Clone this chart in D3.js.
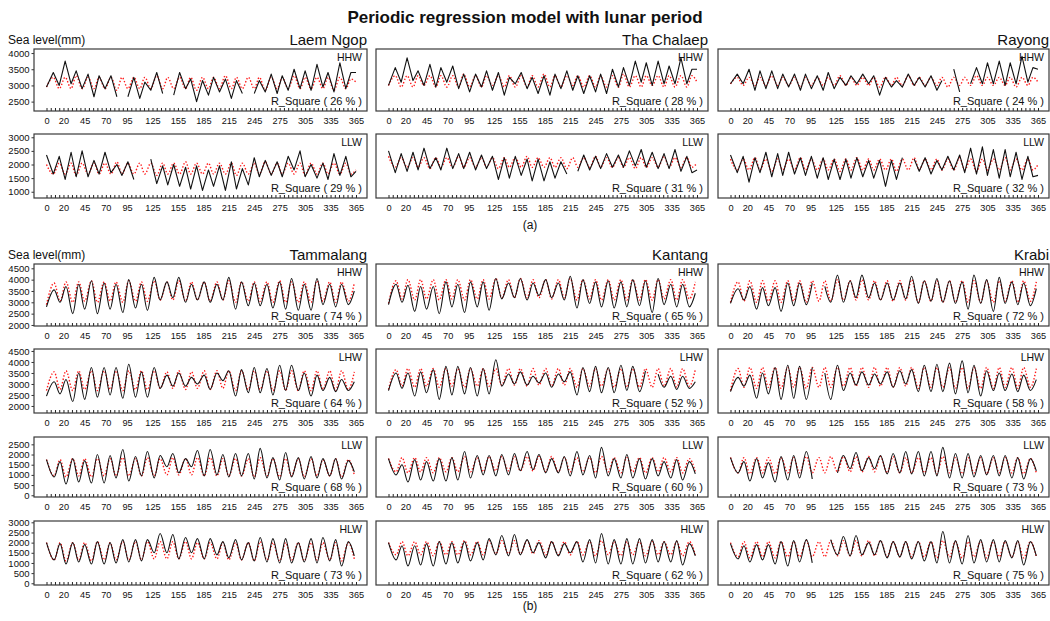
<!DOCTYPE html>
<html>
<head>
<meta charset="utf-8">
<script src="https://cdn.jsdelivr.net/npm/d3@7"></script>
<style>
  body { margin: 0; background: #fff; }
  svg text { font-family: "Liberation Sans", Arial, sans-serif; fill: #111; }
</style>
</head>
<body>
<div id="chart"></div>
<script>
// sample days (turning points of the fortnightly cycle)
const daysA = [0, 8, 15, 22, 29, 35, 42, 49, 56, 62, 69, 76, 83, 89, 96, 103, 110, 116, 123, 130, 137, 143, 150, 157, 164, 170, 177, 184, 191, 197, 204, 211, 218, 224, 231, 238, 245, 251, 258, 265, 272, 278, 285, 292, 299, 305, 312, 319, 326, 332, 339, 346, 353, 359, 365];
const daysB = [0, 9, 16, 23, 31, 38, 45, 53, 60, 68, 75, 82, 90, 97, 105, 112, 119, 127, 134, 142, 149, 156, 164, 171, 178, 186, 193, 201, 208, 215, 223, 230, 238, 245, 252, 260, 267, 275, 282, 289, 297, 304, 312, 319, 326, 334, 341, 348, 356, 363];

const xTickLabels = [0, 20, 45, 70, 95, 125, 155, 185, 215, 245, 275, 305, 335, 365];

const stationsA = ['Laem Ngop', 'Tha Chalaep', 'Rayong'];
const stationsB = ['Tammalang', 'Kantang', 'Krabi'];
const levelsA = ['HHW', 'LLW'];
const levelsB = ['HHW', 'LHW', 'LLW', 'HLW'];
const rSquareA = [[26, 29], [28, 31], [24, 32]];
const rSquareB = [[74, 64, 68, 73], [65, 52, 60, 62], [72, 58, 73, 75]];

// (a) observed / fitted, mm
const laemNgopHHW = [2950, 3400, 3000, 3750, 3050, 3450, 2900, 3350, 2650, 3300, 2900, 3300, 2650, null, 2650, 3250, 2600, 3100, 2850, 3400, 2750, null, 2700, 3400, 2900, 3200, 2500, 3150, 2700, 3250, 2800, 3200, 2600, 3150, 2750, null, 2750, 3150, 2800, 3350, 2750, 3300, 2850, 3500, 2900, 3450, 2850, 3650, 2950, 3400, 2800, 3700, 2900, 3400, 3400];
const laemNgopHHWFit = [2950, 3250, 2900, 3250, 2900, 3300, 2900, 3250, 2900, 3250, 2900, 3250, 2850, 3250, 2900, 3250, 2900, 3250, 2900, 3300, 2900, 3250, 2900, 3250, 2900, 3250, 2850, 3250, 2900, 3250, 2900, 3300, 2900, 3250, 2900, 3250, 2900, 3250, 2850, 3250, 2900, 3250, 2900, 3300, 2900, 3250, 2900, 3250, 2900, 3250, 2850, 3250, 2900, 3200, 3100];
const laemNgopLLW = [2350, 1650, 2300, 1450, 2450, 1550, 2500, 1550, 2150, 1650, 2450, 1700, 2000, 1600, 2100, 1450, null, null, 2200, 1300, 1950, 1250, 2000, 1200, 1900, 1100, 1950, 1050, 1800, 1200, 1950, 1050, 2100, 1100, 1850, 1250, 2250, 1550, 2150, 1600, 2100, 1550, 2300, 1800, 2500, 1550, 2000, 1500, 2050, 1450, 2400, 1600, 2300, 1550, 1750];
const laemNgopLLWFit = [2000, 1650, 2050, 1650, 2050, 1600, 2050, 1650, 2050, 1650, 2050, 1650, 2100, 1650, 2050, 1650, 2050, 1650, 2050, 1600, 2050, 1650, 2050, 1650, 2100, 1650, 2050, 1650, 2050, 1650, 2050, 1650, 2050, 1600, 2050, 1650, 2050, 1650, 2100, 1650, 2050, 1650, 2050, 1650, 2050, 1600, 2050, 1650, 2050, 1650, 2050, 1650, 2050, 1650, 1800];
const thaChalaepHHW = [3000, 3550, 3100, 3850, 3150, 3450, 3000, 3650, 2950, 3550, 3100, 3600, 2900, 3350, 2800, 3350, 2950, 3450, 2850, 3400, 2700, 3250, 3050, 3400, 2900, 3250, 2750, 3300, 2700, 3350, 2900, 3450, 2850, 3300, 2750, 3300, 2800, 3350, 2750, 3500, 2950, 3550, 3000, 3750, 3100, 3700, 3000, 3750, 3050, 3600, 3050, 3850, 3050, 3500, 3500];
const thaChalaepHHWFit = [3000, 3300, 2950, 3300, 2950, 3300, 3000, 3300, 2950, 3300, 2950, 3300, 2950, 3350, 2950, 3300, 2950, 3300, 3000, 3300, 2950, 3300, 2950, 3300, 2950, 3300, 2950, 3350, 2950, 3300, 2950, 3300, 3000, 3300, 2950, 3300, 2950, 3300, 2950, 3300, 2950, 3350, 2950, 3300, 2950, 3300, 3000, 3300, 2950, 3300, 2950, 3300, 2950, 3300, 3100];
const thaChalaepLLW = [2500, 1700, 2400, 1750, 2450, 1800, 2600, 1850, 2250, 1800, 2600, 1850, 2400, 1850, 2450, 1800, 2350, 1850, 2300, 1450, 2250, 1500, 2300, 1600, 2200, 1400, 2200, 1400, 2100, 1500, 2100, 1650, null, 1750, 2350, 1800, 2300, 1850, 2400, 1900, 2350, 1900, 2500, 1950, 2550, 1900, 2450, 1850, 2400, 1850, 2550, 1750, 2300, 1700, 1800];
const thaChalaepLLWFit = [2300, 1900, 2250, 1900, 2250, 1900, 2250, 1850, 2250, 1900, 2250, 1900, 2300, 1900, 2250, 1900, 2250, 1900, 2250, 1850, 2250, 1900, 2250, 1900, 2300, 1900, 2250, 1900, 2250, 1900, 2250, 1850, 2250, 1900, 2250, 1900, 2300, 1900, 2250, 1900, 2250, 1900, 2250, 1850, 2250, 1900, 2250, 1900, 2300, 1900, 2250, 1900, 2250, 1900, 2050];
const rayongHHW = [3050, 3350, 3050, 3500, 2850, 3450, 2900, 3450, 2900, 3350, 2950, 3350, 2850, 3350, 2900, 3300, 2850, 3400, 2900, 3250, 3000, 3300, 3050, 3350, 3050, 3300, 2700, 3250, 2950, 3150, 2950, 3350, 3000, 3250, 2950, 3300, 2850, 3150, null, 3500, 2800, null, 3050, 3550, 3050, 3700, 3050, 3750, 3000, 3700, 3050, 3900, 3100, 3550, 3500];
const rayongHHWFit = [3050, 3250, 3000, 3250, 3000, 3250, 3000, 3300, 3000, 3250, 3000, 3250, 2950, 3250, 3000, 3250, 3000, 3250, 3000, 3300, 3000, 3250, 3000, 3250, 3000, 3250, 2950, 3250, 3000, 3250, 3000, 3300, 3000, 3250, 3000, 3250, 3000, 3250, 2950, 3250, 3000, 3250, 3000, 3300, 3000, 3250, 3000, 3250, 3000, 3250, 2950, 3250, 3000, 3250, 3100];
const rayongLLW = [2350, 1700, 2300, 1350, 2250, 1700, 2450, 1550, 2400, 1600, 2450, 1650, 2250, 1600, 2300, 1500, 2250, 1450, 2200, 1450, 2200, 1500, 2250, 1550, 2150, 1500, 2150, 1200, 2150, 1450, 2250, null, 2200, 1750, 2250, 1650, 2150, 1800, 2300, 1800, 2350, 1700, 2600, 1650, 2650, 1600, 2550, 1500, 2550, 1550, 2450, 1450, 2300, 1550, 1600];
const rayongLLWFit = [2200, 1800, 2200, 1800, 2250, 1800, 2200, 1750, 2200, 1800, 2200, 1800, 2250, 1800, 2200, 1800, 2200, 1800, 2200, 1750, 2200, 1800, 2250, 1800, 2200, 1800, 2200, 1800, 2200, 1750, 2200, 1800, 2250, 1800, 2200, 1800, 2200, 1800, 2200, 1800, 2250, 1800, 2200, 1750, 2200, 1800, 2200, 1800, 2250, 1800, 2200, 1800, 2200, 1800, 2000];

// (b) observed / fitted, mm
const tammalangHHW = [2800, 3550, 3000, 3700, 2500, 3800, 2700, 3950, 2500, 3850, 2700, 3800, 2550, 4000, 2750, 3800, 2650, 4100, 3100, 3900, 3200, 4100, 3000, 3800, 3100, 3900, 3000, 3800, 3100, 4100, 2700, 3900, 2850, 3850, 2850, 3800, 2750, 3900, 2700, 4050, 2650, 3800, 2650, 4050, 2900, 3800, 2800, 3800, 2900, 3500];
const tammalangHHWFit = [2900, 3850, 3050, 3900, 3000, 3900, 3050, 3950, 3000, 3900, 3050, 3900, 3000, 3950, 3050, 3900, 3050, 3950, 3100, 3900, 3100, 3950, 3050, 3900, 3100, 3900, 3050, 3900, 3100, 3950, 3000, 3900, 3050, 3900, 3050, 3900, 3000, 3950, 3000, 3900, 3000, 3900, 3000, 3950, 3050, 3900, 3000, 3900, 3050, 3850];
const tammalangLHW = [2450, 3100, 2550, 3200, 2200, 3500, 2300, 3750, 2400, 3750, 2500, 3750, 2350, 3900, 2400, 3550, 2400, 3750, 2800, 3400, 2900, 3500, 2900, 3300, 3000, 3400, 2750, 3500, 3150, 3600, 2450, 3650, 2600, 3750, 2600, 3700, 2500, 3850, 2700, 3850, 2700, 3500, 2450, 3400, 2700, 3300, 2650, 3200, 2700, 3100];
const tammalangLHWFit = [2700, 3550, 2750, 3600, 2700, 3600, 2750, 3600, 2700, 3600, 2750, 3600, 2700, 3600, 2750, 3600, 2750, 3600, 2800, 3550, 2800, 3600, 2750, 3550, 2800, 3600, 2750, 3600, 2800, 3600, 2700, 3600, 2750, 3600, 2750, 3600, 2700, 3600, 2700, 3600, 2700, 3600, 2700, 3600, 2750, 3600, 2700, 3600, 2750, 3550];
const tammalangLLW = [1750, 900, 1650, 550, 1800, 650, 1700, 600, 2000, 600, 1950, 850, 2250, 700, 1900, 950, 2150, 850, 1950, 1400, 2050, 1100, 1800, 1400, 2200, 950, 2250, 1000, 2000, 900, 2050, 950, 2050, 800, 2300, 850, 1850, 750, 2100, 900, 1850, 800, 1900, 850, 1800, 950, 1800, 800, 1700, 1150];
const tammalangLLWFit = [1750, 950, 1750, 900, 1800, 950, 1800, 900, 1800, 950, 1800, 950, 1850, 950, 1800, 950, 1850, 950, 1800, 1000, 1850, 1000, 1800, 1000, 1850, 950, 1850, 950, 1800, 950, 1800, 950, 1800, 900, 1850, 950, 1800, 900, 1800, 950, 1800, 900, 1800, 950, 1750, 950, 1800, 900, 1750, 1000];
const tammalangHLW = [2000, 1150, 1950, 950, 2000, 1050, 1900, 950, 2050, 950, 2000, 1000, 2150, 1050, 2150, 1100, 2150, 1500, 2450, 1500, 2400, 1200, 2250, 1500, 2200, 1200, 2200, 1400, 2050, 1250, 2150, 1150, 2000, 1100, 2250, 1050, 2200, 1000, 2200, 1000, 2000, 1050, 2200, 1000, 2250, 1100, 2150, 850, 2050, 1350];
const tammalangHLWFit = [2000, 1150, 2000, 1100, 2000, 1150, 2000, 1100, 2050, 1150, 2000, 1150, 2050, 1150, 2050, 1150, 2050, 1200, 2050, 1200, 2050, 1200, 2050, 1200, 2000, 1200, 2000, 1200, 2000, 1150, 2000, 1150, 2000, 1100, 2050, 1150, 2000, 1100, 2000, 1150, 2000, 1100, 2000, 1150, 2000, 1150, 2000, 1100, 2000, 1200];
const kantangHHW = [2900, 3800, 3000, 3750, 2600, 3700, 2700, 3700, 2500, 3900, 2800, 3800, 2550, 3900, 2800, 3900, 2650, 4050, 3150, 3850, 3200, 4050, 3100, 3850, 3300, 4000, 3200, 3850, 3100, 4150, 2750, 4000, 2950, 3900, 2800, 3950, 2750, 3900, 2800, 4000, 2850, 3950, 2550, 4050, 2900, 3800, 2800, 3800, 2800, 3400];
const kantangHHWFit = [2950, 3950, 3150, 4000, 3100, 4000, 3150, 4000, 3100, 4000, 3150, 4000, 3100, 4000, 3150, 4000, 3150, 4050, 3200, 4000, 3200, 4050, 3200, 4000, 3200, 4000, 3150, 4000, 3200, 4050, 3100, 4000, 3150, 4000, 3100, 4000, 3100, 4000, 3100, 4000, 3100, 4000, 3100, 4000, 3150, 4000, 3100, 4000, 3150, 3900];
const kantangLHW = [2700, 3500, 2800, 3500, 2450, 3550, 2600, 3650, 2300, 3800, 2500, 3800, 2550, 3750, 2450, 3700, 2550, 4100, 2900, 3450, 3000, 3550, 2950, 3350, 3050, 3500, 2850, 3450, 3100, 3550, 2500, 3750, 2650, 3800, 2600, 3750, 2600, 3850, 2700, 3800, 2650, 3600, null, 3450, 2850, 3350, 2750, 3350, 2800, 3100];
const kantangLHWFit = [2750, 3650, 2900, 3700, 2850, 3700, 2900, 3700, 2850, 3700, 2900, 3700, 2850, 3700, 2900, 3700, 2900, 3700, 2950, 3700, 2950, 3700, 2900, 3700, 2950, 3700, 2900, 3700, 2950, 3700, 2850, 3700, 2900, 3700, 2900, 3700, 2850, 3700, 2850, 3700, 2850, 3700, 2850, 3700, 2900, 3700, 2850, 3700, 2900, 3650];
const kantangLLW = [1800, 1000, 1500, 650, 1750, 750, 1650, 700, 1800, 700, 1850, 750, 2150, 850, 1950, 1000, 1950, 950, 2000, 1000, 2050, 1200, 2150, 1250, 2000, 1100, 1800, 1100, 1900, 950, 2150, 1000, 1950, 850, 2350, 950, 1800, 850, 2000, 850, 1800, 800, 1800, 950, 1650, 850, 1750, 750, 1650, 1050];
const kantangLLWFit = [1800, 1150, 1850, 1100, 1850, 1150, 1850, 1100, 1850, 1150, 1850, 1150, 1900, 1150, 1850, 1150, 1900, 1200, 1900, 1200, 1900, 1200, 1900, 1200, 1900, 1150, 1900, 1150, 1850, 1150, 1850, 1150, 1850, 1100, 1900, 1150, 1850, 1100, 1850, 1150, 1850, 1100, 1850, 1150, 1850, 1150, 1850, 1100, 1800, 1150];
const kantangHLW = [2000, 1150, 1850, 850, 1850, 900, 1950, 850, 2050, 950, 2000, 1000, 2050, 1100, 2000, 1150, 2200, 1400, 2350, 1350, 2400, 1400, 2150, 1500, 2000, 1250, 2050, 1350, 1950, 1500, 2050, 1050, 2150, 1000, 2450, 950, 2150, 950, 2200, 950, 2200, 1000, 2150, 1050, 2050, 1050, 2100, 900, 1950, 1350];
const kantangHLWFit = [2000, 1400, 2050, 1350, 2050, 1400, 2050, 1350, 2050, 1400, 2050, 1400, 2100, 1400, 2050, 1400, 2100, 1450, 2100, 1450, 2100, 1450, 2100, 1450, 2100, 1400, 2050, 1400, 2050, 1400, 2050, 1400, 2050, 1350, 2100, 1400, 2050, 1350, 2050, 1400, 2050, 1350, 2050, 1400, 2050, 1400, 2050, 1350, 2050, 1400];
const krabiHHW = [2950, 3600, 3100, 3700, 2700, 3650, 2850, 3650, 2600, 3850, 2850, 3850, 2900, 3850, null, 3700, 3000, 4200, 3000, 3950, 3200, 4200, 3200, 3850, 3100, 3850, 3100, 3850, 3150, 4150, 2950, 3950, 3050, 4050, 3000, 3950, 2950, 3900, 2700, 4200, 2950, 4000, 2600, 4100, 2950, 3900, 2900, 3850, 2850, 3600];
const krabiHHWFit = [3000, 3900, 3050, 3950, 3000, 3950, 3050, 3950, 3000, 3950, 3050, 3950, 3000, 3950, 3050, 3950, 3050, 4000, 3100, 3950, 3100, 4000, 3100, 3950, 3100, 3950, 3050, 3950, 3100, 4000, 3000, 3950, 3050, 3950, 3000, 3950, 3000, 3950, 3000, 3950, 3000, 3950, 3000, 3950, 3050, 3950, 3000, 3950, 3050, 3900];
const krabiLHW = [2650, 3300, 2900, 3400, 2350, 3500, 2550, 3750, 2300, 3850, 2350, 3800, 2300, 3750, null, 3500, 2300, 3850, 2700, 3500, 2950, 3550, 2950, 3450, 3000, 3550, 2850, 3600, 3000, 3650, 2650, 3850, 2650, 3900, 2650, 3950, 2550, 4050, 2600, 3850, 2450, 3600, 2700, 3500, 2700, 3450, 2650, 3400, 2700, 3200];
const krabiLHWFit = [2700, 3700, 2850, 3750, 2800, 3750, 2850, 3750, 2800, 3750, 2850, 3750, 2800, 3750, 2850, 3750, 2850, 3750, 2900, 3750, 2900, 3750, 2850, 3750, 2900, 3750, 2850, 3750, 2900, 3750, 2800, 3750, 2850, 3750, 2850, 3750, 2800, 3750, 2800, 3750, 2800, 3750, 2800, 3750, 2850, 3750, 2800, 3750, 2850, 3700];
const krabiLLW = [1850, 1100, 1650, 700, 1800, 850, 1600, 650, 1900, 750, 1950, 850, 2150, 800, null, null, null, 1100, 1950, 1300, 2100, 1200, 1850, 1300, 1950, 1050, 2050, 1100, 2150, 1050, 2150, 950, 2150, 950, 2350, 850, 2050, 850, 2050, 900, 1950, 1000, 1950, 950, 1950, 850, 1850, 800, 1800, 1200];
const krabiLLWFit = [1850, 1100, 1850, 1050, 1850, 1100, 1850, 1050, 1850, 1100, 1850, 1100, 1900, 1100, 1850, 1100, 1900, 1150, 1900, 1150, 1900, 1150, 1900, 1150, 1900, 1100, 1900, 1100, 1850, 1100, 1850, 1100, 1850, 1050, 1900, 1100, 1850, 1050, 1850, 1100, 1850, 1050, 1850, 1100, 1850, 1100, 1850, 1050, 1800, 1100];
const krabiHLW = [1950, 1200, 1850, 1050, 1900, 1150, 1900, 950, 2050, 850, 2100, 1050, 2150, 1000, null, null, 2150, 1400, 2300, 1350, 2350, 1400, 2000, 1400, 2100, 1250, 2050, 1300, 2050, 1200, 2050, 1100, 2050, 1000, 2550, 1000, 2100, 950, 2350, 1000, 2150, 1050, 2150, 1050, 2100, 1250, 2100, 900, 2050, 1350];
const krabiHLWFit = [2000, 1300, 2050, 1250, 2050, 1300, 2050, 1250, 2050, 1300, 2050, 1300, 2100, 1300, 2050, 1300, 2100, 1350, 2100, 1350, 2100, 1350, 2100, 1350, 2100, 1300, 2050, 1300, 2050, 1300, 2050, 1300, 2050, 1250, 2100, 1300, 2050, 1250, 2050, 1300, 2050, 1250, 2050, 1300, 2050, 1300, 2050, 1250, 2050, 1300];

const obsA = [[laemNgopHHW, laemNgopLLW], [thaChalaepHHW, thaChalaepLLW], [rayongHHW, rayongLLW]];
const fitA = [[laemNgopHHWFit, laemNgopLLWFit], [thaChalaepHHWFit, thaChalaepLLWFit], [rayongHHWFit, rayongLLWFit]];
const obsB = [[tammalangHHW, tammalangLHW, tammalangLLW, tammalangHLW], [kantangHHW, kantangLHW, kantangLLW, kantangHLW], [krabiHHW, krabiLHW, krabiLLW, krabiHLW]];
const fitB = [[tammalangHHWFit, tammalangLHWFit, tammalangLLWFit, tammalangHLWFit], [kantangHHWFit, kantangLHWFit, kantangLLWFit, kantangHLWFit], [krabiHHWFit, krabiLHWFit, krabiLLWFit, krabiHLWFit]];

// layout
const width = 1050, height = 621;
const cols = [{x0: 34, x1: 367}, {x0: 376, x1: 708}, {x0: 718, x1: 1049}];
const rowsA = [
  {top: 49, bottom: 111, domain: [2210, 4125], ticks: [2500, 3000, 3500, 4000]},
  {top: 134, bottom: 198, domain: [770, 3120], ticks: [1000, 1500, 2000, 2500, 3000]}
];
const rowsB = [
  {top: 264, bottom: 326, domain: [1955, 4690], ticks: [2000, 2500, 3000, 3500, 4000, 4500]},
  {top: 349, bottom: 413, domain: [1680, 4590], ticks: [2000, 2500, 3000, 3500, 4000, 4500]},
  {top: 437, bottom: 497, domain: [-85, 2860], ticks: [0, 500, 1000, 1500, 2000, 2500]},
  {top: 521, bottom: 585, domain: [-85, 3065], ticks: [0, 500, 1000, 1500, 2000, 2500, 3000]}
];

const svg = d3.select('#chart').append('svg')
  .attr('width', width)
  .attr('height', height);

svg.append('text')
  .attr('x', 525).attr('y', 23)
  .attr('text-anchor', 'middle')
  .style('font-size', '17px').style('font-weight', 'bold')
  .text('Periodic regression model with lunar period');

let clipId = 0;

//Draw one small panel
function drawPanel(col, row, days, obs, fit, level, r2, showY, obsCurve) {
  const x = d3.scaleLinear().domain([0, 365]).range([col.x0 + 12.5, col.x1 - 11]);
  const y = d3.scaleLinear().domain(row.domain).range([row.bottom, row.top]);
  const g = svg.append('g');

  const id = 'clip' + (clipId++);
  svg.append('clipPath').attr('id', id)
    .append('rect')
      .attr('x', col.x0).attr('y', row.top)
      .attr('width', col.x1 - col.x0).attr('height', row.bottom - row.top);

  // minor ticks every 5 days, pointing inward
  const minor = g.append('g')
    .attr('transform', `translate(0,${row.bottom})`)
    .call(d3.axisBottom(x).tickValues(d3.range(0, 366, 5)).tickSize(-3).tickFormat(''));
  minor.select('.domain').remove();
  minor.selectAll('line').attr('stroke', '#222');

  const labels = g.append('g')
    .attr('transform', `translate(0,${row.bottom})`)
    .call(d3.axisBottom(x).tickValues(xTickLabels).tickSize(0).tickPadding(6));
  labels.select('.domain').remove();
  labels.selectAll('text').style('font-size', '9.2px').attr('fill', '#111');

  if (showY) {
    const ya = g.append('g')
      .attr('transform', `translate(${col.x0},0)`)
      .call(d3.axisLeft(y).tickValues(row.ticks).tickFormat(d3.format('d')).tickSize(2.5).tickPadding(2));
    ya.select('.domain').remove();
    ya.selectAll('line').attr('stroke', '#333');
    ya.selectAll('text').style('font-size', '9.5px').attr('fill', '#111');
  }

  const fitLine = d3.line()
    .defined(d => d[1] !== null)
    .x(d => x(d[0])).y(d => y(d[1]))
    .curve(d3.curveMonotoneX);
  const obsLine = d3.line()
    .defined(d => d[1] !== null)
    .x(d => x(d[0])).y(d => y(d[1]))
    .curve(obsCurve);

  g.append('path')
    .datum(days.map((d, i) => [d, fit[i]]))
    .attr('clip-path', `url(#${id})`)
    .attr('d', fitLine)
    .attr('fill', 'none')
    .attr('stroke', '#ff1a1a')
    .attr('stroke-width', 1.4)
    .attr('stroke-dasharray', '1.4,1.9');

  g.append('path')
    .datum(days.map((d, i) => [d, obs[i]]))
    .attr('clip-path', `url(#${id})`)
    .attr('d', obsLine)
    .attr('fill', 'none')
    .attr('stroke', '#111')
    .attr('stroke-width', 1.1)
    .attr('stroke-linejoin', 'round');

  g.append('rect')
    .attr('x', col.x0).attr('y', row.top)
    .attr('width', col.x1 - col.x0).attr('height', row.bottom - row.top)
    .attr('fill', 'none')
    .attr('stroke', '#3a3a3a')
    .attr('stroke-width', 1.2);

  g.append('text')
    .attr('x', col.x1 - 5).attr('y', row.top + 11.5)
    .attr('text-anchor', 'end')
    .style('font-size', '10.5px')
    .text(level);

  g.append('text')
    .attr('x', col.x1 - 5).attr('y', row.bottom - 6)
    .attr('text-anchor', 'end')
    .style('font-size', '11px')
    .text(`R_Square ( ${r2} % )`);
}

//Station names and axis title for a section
function drawHeaders(stations, top) {
  svg.append('text')
    .attr('x', 8).attr('y', top - 5)
    .style('font-size', '12px')
    .text('Sea level(mm)');
  stations.forEach((s, i) => {
    svg.append('text')
      .attr('x', cols[i].x1).attr('y', top - 4)
      .attr('text-anchor', 'end')
      .style('font-size', '15px')
      .text(s);
  });
}

drawHeaders(stationsA, rowsA[0].top);
stationsA.forEach((s, c) => {
  levelsA.forEach((lv, r) => {
    drawPanel(cols[c], rowsA[r], daysA, obsA[c][r], fitA[c][r], lv, rSquareA[c][r], c === 0, d3.curveLinear);
  });
});

drawHeaders(stationsB, rowsB[0].top);
stationsB.forEach((s, c) => {
  levelsB.forEach((lv, r) => {
    drawPanel(cols[c], rowsB[r], daysB, obsB[c][r], fitB[c][r], lv, rSquareB[c][r], c === 0, d3.curveMonotoneX);
  });
});

svg.append('text')
  .attr('x', 530).attr('y', 229)
  .attr('text-anchor', 'middle')
  .style('font-size', '12px')
  .text('(a)');

svg.append('text')
  .attr('x', 530).attr('y', 610)
  .attr('text-anchor', 'middle')
  .style('font-size', '12px')
  .text('(b)');
</script>
</body>
</html>
